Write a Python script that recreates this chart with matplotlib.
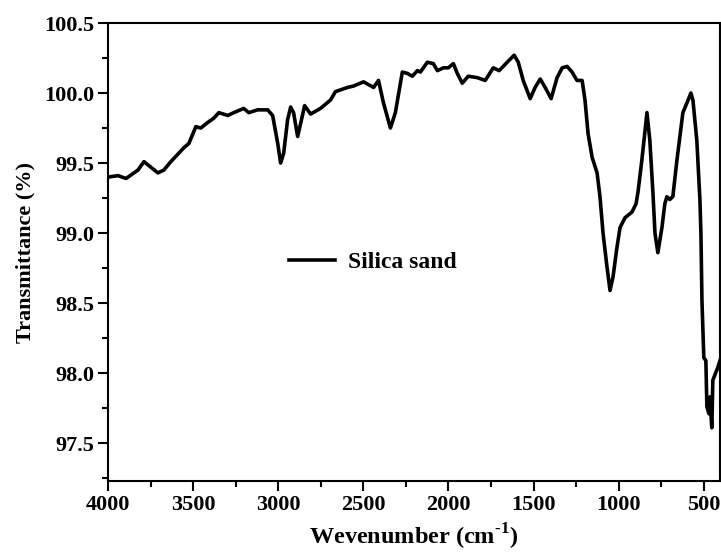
import matplotlib
matplotlib.use("Agg")
import matplotlib.pyplot as plt
from matplotlib.ticker import MultipleLocator

plt.rcParams['font.family'] = ['Liberation Serif', 'DejaVu Serif']
plt.rcParams['font.weight'] = 'bold'
plt.rcParams['mathtext.fontset'] = 'custom'
plt.rcParams['mathtext.rm'] = 'Liberation Serif:bold'
plt.rcParams['mathtext.bf'] = 'Liberation Serif:bold'

# FTIR spectrum of silica sand (10 values per row)
wavenumber = [4000, 3941, 3894, 3824, 3789, 3707, 3672, 3631, 3554, 3525,
              3484, 3455, 3414, 3379, 3349, 3296, 3261, 3203, 3173, 3121,
              3062, 3033, 3003, 2986, 2968, 2945, 2927, 2910, 2886, 2869,
              2845, 2810, 2752, 2693, 2664, 2593, 2558, 2499, 2440, 2411,
              2382, 2341, 2312, 2271, 2241, 2212, 2183, 2165, 2124, 2089,
              2065, 2030, 2001, 1971, 1948, 1919, 1884, 1831, 1784, 1737,
              1702, 1655, 1614, 1590, 1561, 1520, 1491, 1461, 1432, 1397,
              1362, 1332, 1303, 1274, 1245, 1215, 1198, 1180, 1156, 1127,
              1110, 1092, 1069, 1051, 1033, 1010, 992, 963, 922, 898,
              887, 864, 834, 817, 799, 787, 770, 746, 729, 717,
              700, 682, 658, 623, 599, 576, 564, 541, 523, 517,
              511, 500, 488, 482, 470, 465, 453, 447, 418, 400]
transmittance = [99.40, 99.41, 99.39, 99.45, 99.51, 99.43, 99.45, 99.51, 99.61, 99.64,
                 99.76, 99.75, 99.79, 99.82, 99.86, 99.84, 99.86, 99.89, 99.86, 99.88,
                 99.88, 99.84, 99.64, 99.50, 99.57, 99.81, 99.90, 99.86, 99.69, 99.78,
                 99.91, 99.85, 99.89, 99.95, 100.01, 100.04, 100.05, 100.08, 100.04, 100.09,
                 99.93, 99.75, 99.86, 100.15, 100.14, 100.12, 100.16, 100.15, 100.22, 100.21,
                 100.16, 100.18, 100.18, 100.21, 100.14, 100.07, 100.12, 100.11, 100.09, 100.18,
                 100.16, 100.22, 100.27, 100.22, 100.09, 99.96, 100.04, 100.10, 100.04, 99.96,
                 100.11, 100.18, 100.19, 100.15, 100.09, 100.09, 99.95, 99.71, 99.54, 99.43,
                 99.26, 99.00, 98.76, 98.59, 98.69, 98.90, 99.04, 99.11, 99.15, 99.21,
                 99.29, 99.52, 99.86, 99.66, 99.29, 99.00, 98.86, 99.04, 99.21, 99.26,
                 99.24, 99.26, 99.52, 99.86, 99.93, 100.00, 99.95, 99.66, 99.24, 99.00,
                 98.52, 98.11, 98.09, 97.76, 97.71, 97.83, 97.61, 97.95, 98.04, 98.11]

fig = plt.figure(figsize=(7.21, 5.53), dpi=100)
ax = fig.add_axes([0.1498, 0.1302, 0.8488, 0.8282])

ax.plot(wavenumber, transmittance, color='black', linewidth=2.6, label='Silica sand')

ax.set_xlim(4000, 405)
ax.set_ylim(97.23, 100.5)
ax.xaxis.set_major_locator(MultipleLocator(500))
ax.xaxis.set_minor_locator(MultipleLocator(250))
ax.yaxis.set_major_locator(MultipleLocator(0.5))
ax.yaxis.set_minor_locator(MultipleLocator(0.25))
ax.tick_params(axis='both', which='major', direction='out', length=7, width=1.5,
               labelsize=16, top=False, right=False, pad=3)
ax.tick_params(axis='both', which='minor', direction='out', length=4.5, width=1.5,
               top=False, right=False)
for sp in ax.spines.values():
    sp.set_linewidth(1.5)

ax.set_xlabel('Wevenumber (cm$^{\\text{-1}}$)', fontsize=17.5, fontweight='bold',
              labelpad=5)
ax.set_ylabel('Transmittance (%)', fontsize=16, fontweight='bold', labelpad=6)

ax.legend(loc='center left', bbox_to_anchor=(0.261, 0.478), frameon=False,
          handlelength=1.95, handletextpad=0.55,
          prop={'weight': 'bold', 'size': 17})

fig.savefig('out.png', dpi=100)
